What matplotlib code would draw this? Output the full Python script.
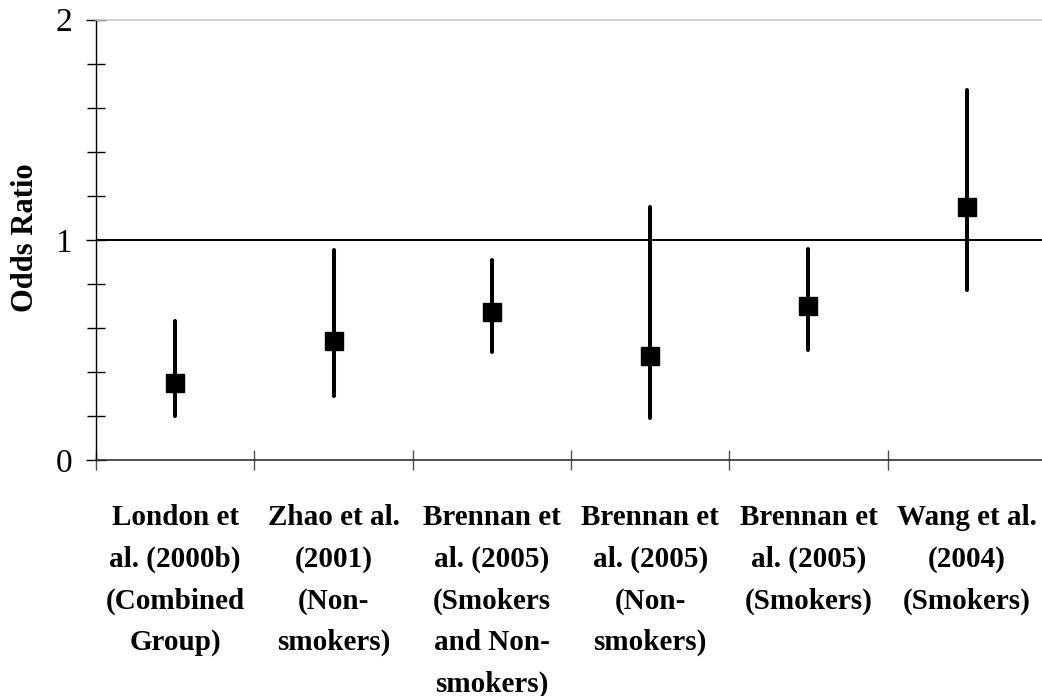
import matplotlib
matplotlib.use("Agg")
import matplotlib.pyplot as plt
from matplotlib.ticker import MultipleLocator, FixedLocator, NullFormatter
import numpy as np

# study labels and odds ratios with 95% CI
studies = [
    "London et\nal. (2000b)\n(Combined\nGroup)",
    "Zhao et al.\n(2001)\n(Non-\nsmokers)",
    "Brennan et\nal. (2005)\n(Smokers\nand Non-\nsmokers)",
    "Brennan et\nal. (2005)\n(Non-\nsmokers)",
    "Brennan et\nal. (2005)\n(Smokers)",
    "Wang et al.\n(2004)\n(Smokers)",
]
odds = [0.35, 0.54, 0.67, 0.47, 0.70, 1.15]
ci_low = [0.20, 0.29, 0.49, 0.19, 0.50, 0.77]
ci_high = [0.63, 0.955, 0.91, 1.15, 0.96, 1.68]

plt.rcParams['font.family'] = ['Liberation Serif', 'DejaVu Serif']

fig = plt.figure(figsize=(10.42, 6.96), dpi=100)
ax = fig.add_axes([96 / 1042, 1 - 460 / 696, 950 / 1042, 440.5 / 696])

x = np.arange(1, len(studies) + 1)
odds = np.array(odds)
yerr = [odds - np.array(ci_low), np.array(ci_high) - odds]

ax.axhline(1, color='black', lw=1.4, zorder=1)
cont = ax.errorbar(x, odds, yerr=yerr, fmt='s', color='black', ecolor='black',
                   elinewidth=2.9, markersize=13, capsize=0, zorder=3)
for lc in cont.lines[2]:
    lc.set_capstyle('round')

ax.set_xlim(0.5, len(studies) + 0.5)
ax.set_ylim(0, 2)

# spines
ax.spines['right'].set_visible(False)
ax.spines['top'].set_color('#c8c8c8')
ax.spines['top'].set_linewidth(1.2)
ax.spines['left'].set_color('black')
ax.spines['bottom'].set_color('#303030')
ax.spines['left'].set_linewidth(1.0)
ax.spines['bottom'].set_linewidth(1.2)

# y ticks
ax.yaxis.set_major_locator(FixedLocator([0, 1, 2]))
ax.yaxis.set_minor_locator(MultipleLocator(0.2))
ax.tick_params(axis='y', which='major', direction='inout', length=14.4, width=1.0,
               pad=10, labelsize=24, colors='black')
ax.tick_params(axis='y', which='minor', direction='inout', length=12.3, width=1.0)

# x ticks: boundaries as major ticks, labels on category centres
ax.xaxis.set_major_locator(FixedLocator(np.arange(0.5, len(studies) + 1, 1.0)))
ax.xaxis.set_major_formatter(NullFormatter())
ax.xaxis.set_minor_locator(FixedLocator(x))
ax.set_xticklabels(studies, minor=True, fontweight='bold', fontsize=21, linespacing=1.68)
ax.tick_params(axis='x', which='major', direction='inout', length=14, width=1.0, color='#505050')
ax.tick_params(axis='x', which='minor', length=0, pad=32)

ax.set_ylabel("Odds Ratio", fontweight='bold', fontsize=22)
ax.yaxis.set_label_coords(-0.059, 0.505)

fig.savefig("out.png", dpi=100)
